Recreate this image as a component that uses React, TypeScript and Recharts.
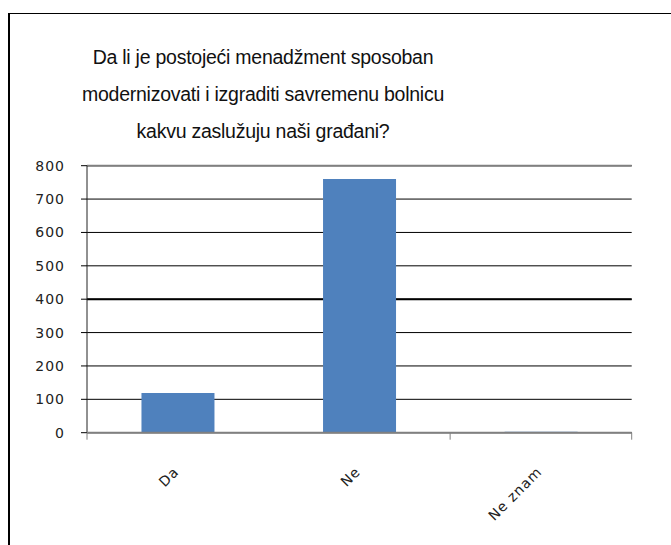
import React from 'react';
import { BarChart, Bar, XAxis, YAxis, CartesianGrid, ReferenceLine } from 'recharts';

const categories = ['Da', 'Ne', 'Ne znam'];
const responses = [119, 760, 3];
const yTicks = [0, 100, 200, 300, 400, 500, 600, 700, 800];
const emphasisValues = [400];
const titleLines = [
  'Da li je postojeći menadžment sposoban',
  'modernizovati i izgraditi savremenu bolnicu',
  'kakvu zaslužuju naši građani?',
];

const data = categories.map((c, i) => ({ name: c, value: responses[i] }));

const FONT = '"Liberation Sans", Arial, sans-serif';
const TICK_FONT = '"DejaVu Sans", sans-serif';

const XTick = (props: any) => {
  const { x, y, payload, index } = props;
  const half = payload && typeof payload.offset === 'number' && payload.offset > 0 ? payload.offset : 90.8;
  const last = index === categories.length - 1;
  return (
    <g>
      {index !== 1 && (
        <line x1={x - half} x2={x - half} y1={y} y2={y + 7} stroke="#808080" strokeWidth={1} />
      )}
      {last && <line x1={x + half} x2={x + half} y1={y} y2={y + 7} stroke="#808080" strokeWidth={1} />}
      <text
        transform={`translate(${x + 2},${y + 40}) rotate(-45)`}
        textAnchor="end"
        fontFamily={TICK_FONT}
        fontSize={14}
        letterSpacing={1}
        fill="#222"
      >
        {payload.value}
      </text>
    </g>
  );
};

export default function App() {
  return (
    <div style={{ position: 'absolute', left: 0, top: 0, width: 671, height: 545, background: '#fff' }}>
      <div
        style={{
          position: 'absolute',
          left: 8,
          top: 13,
          width: 663,
          height: 532,
          borderTop: '1.5px solid #000',
          borderLeft: '2px solid #000',
          boxSizing: 'border-box',
        }}
      />
      <div style={{ position: 'absolute', left: 0, top: 0 }}>
        <BarChart
          width={671}
          height={545}
          data={data}
          margin={{ top: 165.7, right: 39.3, bottom: 32.3, left: 27 }}
          barCategoryGap="30%"
        >
          <CartesianGrid yAxisId="left" horizontal={true} vertical={false} stroke="#000" strokeWidth={1} />
          <CartesianGrid
            yAxisId="left"
            horizontal={true}
            vertical={false}
            horizontalValues={emphasisValues}
            stroke="#000"
            strokeWidth={2}
          />
          <YAxis
            yAxisId="left"
            domain={[0, 800]}
            ticks={yTicks}
            width={60}
            tickSize={6}
            tickMargin={16}
            axisLine={{ stroke: '#222', strokeWidth: 1 }}
            tickLine={{ stroke: '#000', strokeWidth: 1 }}
            tick={{ fontFamily: TICK_FONT, fontSize: 14, fill: '#222', letterSpacing: 1 } as any}
            interval={0}
          />
          <YAxis
            yAxisId="right"
            orientation="right"
            domain={[0, 800]}
            width={0}
            tick={false}
            tickLine={false}
            axisLine={{ stroke: '#808080', strokeWidth: 2 }}
          />
          <XAxis
            dataKey="name"
            height={80}
            tickSize={0}
            tickMargin={0}
            tickLine={false}
            interval={0}
            axisLine={{ stroke: '#808080', strokeWidth: 2 }}
            tick={<XTick />}
          />
          <ReferenceLine yAxisId="left" y={800} stroke="#808080" strokeWidth={2} />
          <Bar yAxisId="left" dataKey="value" fill="#4F81BD" isAnimationActive={false} />
        </BarChart>
      </div>
      <div
        style={{
          position: 'absolute',
          left: 63,
          top: 39,
          width: 400,
          textAlign: 'center',
          fontFamily: FONT,
          fontSize: 19.5,
          letterSpacing: -0.25,
          lineHeight: '37px',
          color: '#111',
          whiteSpace: 'nowrap',
        }}
      >
        {titleLines.map((l, i) => (
          <div key={i}>{l}</div>
        ))}
      </div>
    </div>
  );
}
